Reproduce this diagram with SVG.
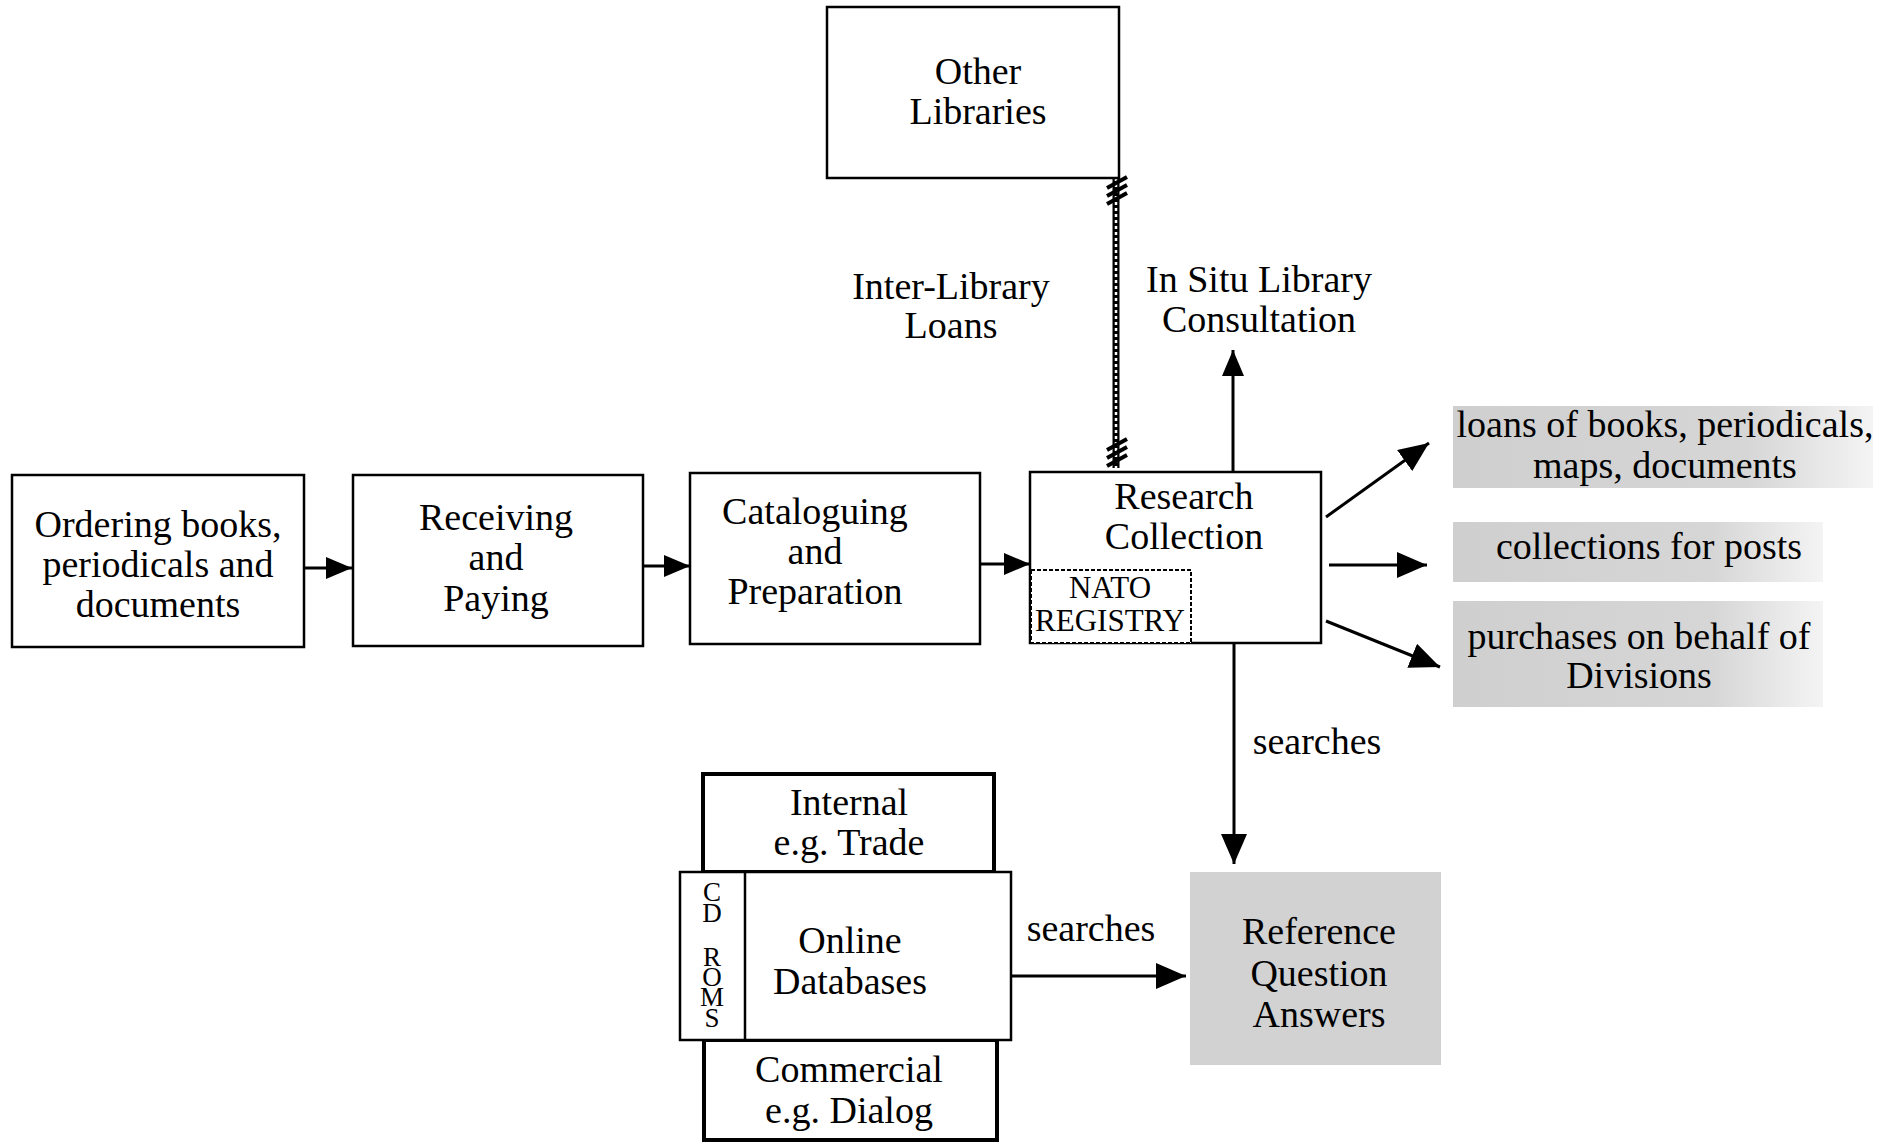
<svg xmlns="http://www.w3.org/2000/svg" width="1894" height="1142" viewBox="0 0 1894 1142">
<style>
text{font-family:"Liberation Serif","Times New Roman",serif;font-size:38px;fill:#000;text-anchor:middle}
.box{fill:#fff;stroke:#000;stroke-width:2.5}
.thick{fill:#fff;stroke:#000;stroke-width:4}
.dash{fill:#fff;stroke:#000;stroke-width:2;stroke-dasharray:4 2}
.gray{fill:url(#dither);stroke:none}
.conn{stroke:#000;stroke-width:3;fill:none}
.small{font-size:31px}
.cd{font-size:27px}
</style>
<defs>
<marker id="ah" markerUnits="userSpaceOnUse" markerWidth="28" markerHeight="22" refX="26" refY="11" orient="auto">
<path d="M0,0 L26,11 L0,22 Z" fill="#000"/>
</marker>
<marker id="ahb" markerUnits="userSpaceOnUse" markerWidth="32" markerHeight="26" refX="30" refY="13" orient="auto">
<path d="M0,0 L30,13 L0,26 Z" fill="#000"/>
</marker>
<linearGradient id="dither" x1="0" y1="0" x2="1" y2="0">
<stop offset="0" stop-color="#cfcfcf"/>
<stop offset="0.7" stop-color="#d6d6d6"/>
<stop offset="1" stop-color="#f4f4f4"/>
</linearGradient>
</defs>

<g id="connectors">
<line class="conn" x1="305" y1="568" x2="352" y2="568" marker-end="url(#ah)"/>
<line class="conn" x1="643" y1="566" x2="690" y2="566" marker-end="url(#ah)"/>
<line class="conn" x1="980" y1="564" x2="1030" y2="564" marker-end="url(#ah)"/>
<line class="conn" x1="1233" y1="472" x2="1233" y2="350" marker-end="url(#ah)"/>
<line class="conn" x1="1326" y1="517" x2="1429" y2="443" marker-end="url(#ahb)"/>
<line class="conn" x1="1329" y1="565" x2="1427" y2="565" marker-end="url(#ahb)"/>
<line class="conn" x1="1326" y1="621" x2="1440" y2="667" marker-end="url(#ahb)"/>
<line class="conn" x1="1234" y1="643" x2="1234" y2="864" marker-end="url(#ahb)"/>
<line class="conn" x1="1011" y1="976" x2="1186" y2="976" marker-end="url(#ahb)"/>
<g id="ill-link">
<line x1="1116" y1="178" x2="1116" y2="468" stroke="#000" stroke-width="7"/>
<line x1="1116" y1="178" x2="1116" y2="468" stroke="#fff" stroke-width="2.5" stroke-dasharray="3 3"/>
<path d="M1107,188 L1127,177 M1107,196 L1127,185 M1107,204 L1127,193" stroke="#000" stroke-width="4" fill="none"/>
<path d="M1107,450 L1127,439 M1107,458 L1127,447 M1107,466 L1127,455" stroke="#000" stroke-width="4" fill="none"/>
</g>
</g>

<g id="ordering">
<rect class="box" x="12" y="475" width="292" height="172"/>
<text x="158" y="537">Ordering books,</text>
<text x="158" y="577">periodicals and</text>
<text x="158" y="617">documents</text>
</g>
<g id="receiving">
<rect class="box" x="353" y="475" width="290" height="171"/>
<text x="496" y="530">Receiving</text>
<text x="496" y="570">and</text>
<text x="496" y="611">Paying</text>
</g>
<g id="cataloguing">
<rect class="box" x="690" y="473" width="290" height="171"/>
<text x="815" y="524">Cataloguing</text>
<text x="815" y="564">and</text>
<text x="815" y="604">Preparation</text>
</g>
<g id="research">
<rect class="box" x="1030" y="472" width="291" height="171"/>
<text x="1184" y="509">Research</text>
<text x="1184" y="549">Collection</text>
</g>
<g id="nato">
<rect class="dash" x="1031" y="570" width="160" height="73"/>
<text class="small" x="1110" y="598">NATO</text>
<text class="small" x="1110" y="631">REGISTRY</text>
</g>
<g id="other-libraries">
<rect class="box" x="827" y="7" width="292" height="171"/>
<text x="978" y="84">Other</text>
<text x="978" y="124">Libraries</text>
</g>
<g id="ill-label">
<text x="951" y="299">Inter-Library</text>
<text x="951" y="338">Loans</text>
</g>
<g id="in-situ">
<text x="1259" y="292">In Situ Library</text>
<text x="1259" y="332">Consultation</text>
</g>
<g id="loans">
<rect class="gray" x="1453" y="406" width="420" height="82"/>
<text x="1665" y="437">loans of books, periodicals,</text>
<text x="1665" y="478">maps, documents</text>
</g>
<g id="collections">
<rect class="gray" x="1453" y="522" width="370" height="60"/>
<text x="1649" y="559">collections for posts</text>
</g>
<g id="purchases">
<rect class="gray" x="1453" y="601" width="370" height="106"/>
<text x="1639" y="649">purchases on behalf of</text>
<text x="1639" y="688">Divisions</text>
</g>
<g id="searches-label-1">
<text x="1317" y="754">searches</text>
</g>
<g id="reference">
<rect class="gray" x="1190" y="872" width="251" height="193" style="fill:#d2d2d2"/>
<text x="1319" y="944">Reference</text>
<text x="1319" y="986">Question</text>
<text x="1319" y="1027">Answers</text>
</g>
<g id="internal">
<rect class="thick" x="703" y="774" width="291" height="98"/>
<text x="849" y="815">Internal</text>
<text x="849" y="855">e.g. Trade</text>
</g>
<g id="commercial">
<rect class="thick" x="704" y="1040" width="293" height="100"/>
<text x="849" y="1082">Commercial</text>
<text x="849" y="1123">e.g. Dialog</text>
</g>
<g id="online">
<rect class="box" x="680" y="872" width="331" height="168"/>
<line x1="745" y1="872" x2="745" y2="1040" stroke="#000" stroke-width="2.5"/>
<text x="850" y="953">Online</text>
<text x="850" y="994">Databases</text>
</g>
<g id="cdroms">
<text class="cd"><tspan x="712" y="901">C</tspan><tspan x="712" y="922">D</tspan><tspan x="712" y="966">R</tspan><tspan x="712" y="986">O</tspan><tspan x="712" y="1006">M</tspan><tspan x="712" y="1027">S</tspan></text>
</g>
<g id="searches-label-2">
<text x="1091" y="941">searches</text>
</g>
</svg>
